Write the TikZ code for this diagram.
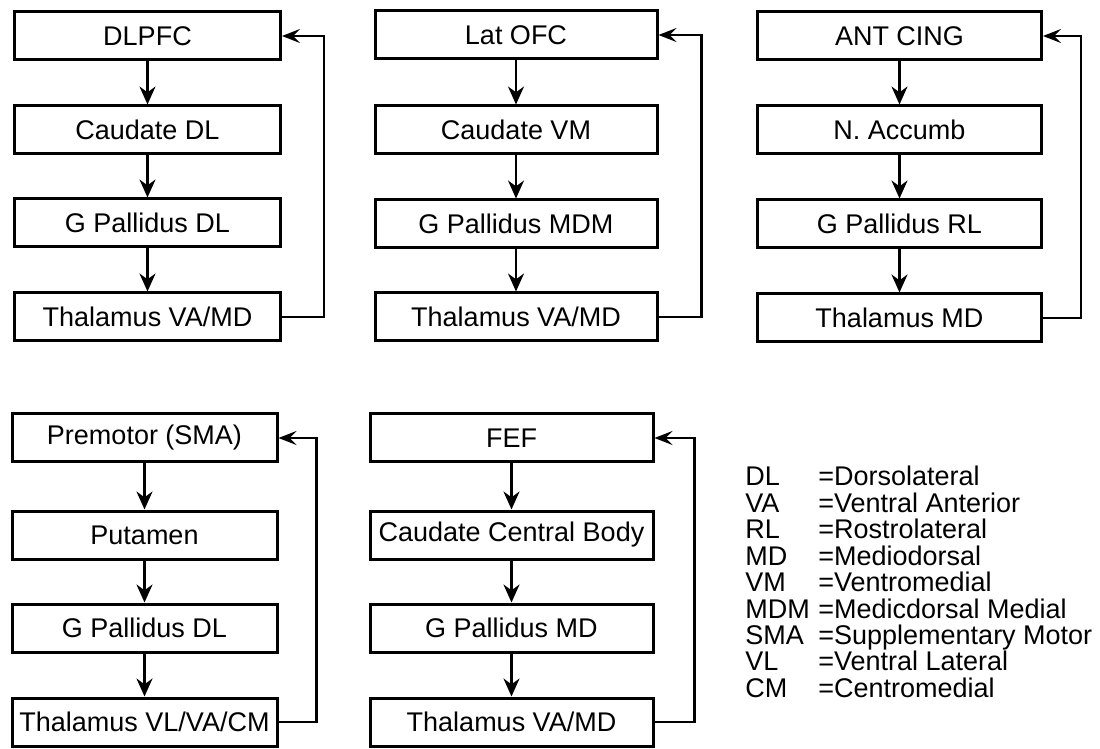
\documentclass[tikz,border=0pt]{standalone}
\usepackage{fontspec}
\setmainfont{Liberation Sans}
\usetikzlibrary{arrows.meta}
\def\down{\draw[-{Stealth[length=9pt,width=8pt]},line width=1.2pt]}
\def\back{\draw[-{Stealth[length=9pt,width=7pt,inset=3.5pt]},line width=1.2pt]}

\begin{document}
\begin{tikzpicture}[x=0.5pt,y=-0.5pt,
    box/.style={draw,line width=1.5pt,minimum height=24pt,inner sep=0pt,
        font=\fontsize{13.5}{15}\selectfont},
    abbr/.style={anchor=base west,inner sep=0pt,font=\fontsize{13.5}{15}\selectfont}]
    \useasboundingbox (0,0) rectangle (1100,749);
    % dorsolateral prefrontal loop
    \node[box,minimum width=133pt] (dlpfc) at (147.5,36) {DLPFC};
    \node[box,minimum width=133pt] (cdl)   at (147.5,130) {Caudate DL};
    \node[box,minimum width=133pt] (gpdl)  at (147.5,223) {G Pallidus DL};
    \node[box,minimum width=133pt] (thdl)  at (147.5,317) {Thalamus VA/MD};
    \down (dlpfc) -- (cdl);
    \down (cdl) -- (gpdl);
    \down (gpdl) -- (thdl);
    \back (thdl.east) -- ++(42,0) |- (dlpfc.east);
    % lateral orbitofrontal loop
    \node[box,minimum width=141pt] (lofc)  at (516,35) {Lat OFC};
    \node[box,minimum width=141pt] (cvm)   at (516,130) {Caudate VM};
    \node[box,minimum width=141pt] (gpmdm) at (516,224) {G Pallidus MDM};
    \node[box,minimum width=141pt] (thofc) at (516,317) {Thalamus VA/MD};
    \down (lofc) -- (cvm);
    \down (cvm) -- (gpmdm);
    \down (gpmdm) -- (thofc);
    \back (thofc.east) -- ++(43,0) |- (lofc.east);
    % anterior cingulate loop
    \node[box,minimum width=142pt] (acing) at (899.5,36) {ANT CING};
    \node[box,minimum width=142pt] (nacc)  at (899.5,130) {N. Accumb};
    \node[box,minimum width=142pt] (gprl)  at (899.5,224) {G Pallidus RL};
    \node[box,minimum width=142pt] (thmd)  at (899.5,318) {Thalamus MD};
    \down (acing) -- (nacc);
    \down (nacc) -- (gprl);
    \down (gprl) -- (thmd);
    \back (thmd.east) -- ++(38,0) |- (acing.east);
    % motor loop
    \node[box,minimum width=132.5pt] (sma)  at (144.5,438) {Premotor (SMA)};
    \node[box,minimum width=132.5pt] (put)  at (144.5,535) {Putamen};
    \node[box,minimum width=132.5pt] (gpmo) at (144.5,628) {G Pallidus DL};
    \node[box,minimum width=132.5pt] (thvl) at (144.5,722) {Thalamus VL/VA/CM};
    \down (sma) -- (put);
    \down (put) -- (gpmo);
    \down (gpmo) -- (thvl);
    \back (thvl.east) -- ++(38,0) |- (sma.east);
    % oculomotor loop
    \node[box,minimum width=141.5pt] (fef)  at (511.5,438) {FEF};
    \node[box,minimum width=141.5pt] (ccb)  at (511.5,535) {Caudate Central Body};
    \node[box,minimum width=141.5pt] (gpmd) at (511.5,628) {G Pallidus MD};
    \node[box,minimum width=141.5pt] (thfef) at (511.5,722) {Thalamus VA/MD};
    \down (fef) -- (ccb);
    \down (ccb) -- (gpmd);
    \down (gpmd) -- (thfef);
    \back (thfef.east) -- ++(40,0) |- (fef.east);
    % legend
    \foreach \ab/\txt [count=\i from 0] in {DL/Dorsolateral,VA/Ventral Anterior,
        RL/Rostrolateral,MD/Mediodorsal,VM/Ventromedial,MDM/Medicdorsal Medial,
        SMA/Supplementary Motor,VL/Ventral Lateral,CM/Centromedial}{
        \node[abbr] (ab\i) at (745,486+26.4*\i) {\ab};
        \node[abbr] (df\i) at (818,486+26.4*\i) {=\txt};
    }
\end{tikzpicture}
\end{document}
